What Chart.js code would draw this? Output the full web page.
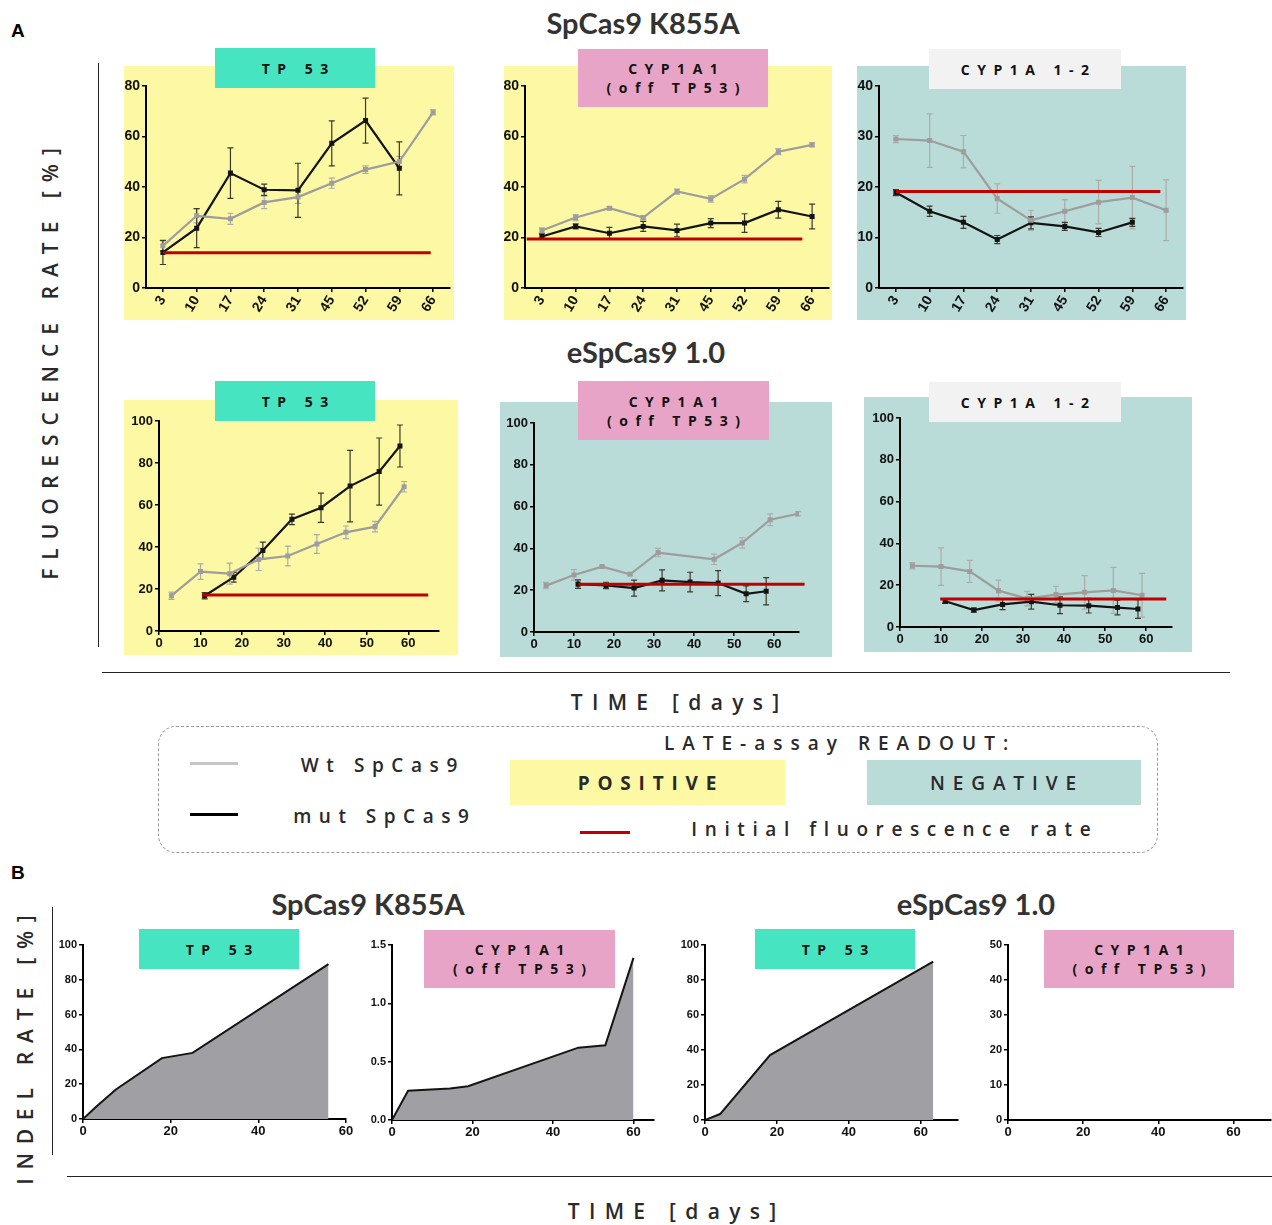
<!DOCTYPE html>
<html>
<head>
<meta charset="utf-8">
<script src="https://cdn.jsdelivr.net/npm/chart.js@4.4.1/dist/chart.umd.min.js"></script>
<style>
  body { margin: 0; background: #fff; }
  #fig { position: relative; width: 1272px; height: 1225px; overflow: hidden; font-family: 'Open Sans', sans-serif; color: #222; }
  .abs { position: absolute; }
  .bg { position: absolute; }
  .tag { position: absolute; display: flex; flex-direction: column; align-items: center; justify-content: center; text-align: center;
         font-family: 'Open Sans', sans-serif; font-weight: 700; font-size: 14px; letter-spacing: 7.5px; padding-left: 7.5px; box-sizing: border-box;
         white-space: pre; line-height: 19px; color: #111; z-index: 3; }
  .title { position: absolute; font-family: 'Lato', sans-serif; font-weight: 700; font-size: 29px; color: #333; white-space: nowrap; transform: translate(-50%, -50%); }
  .spaced { position: absolute; white-space: pre; font-family: 'Open Sans', sans-serif; color: #2a2a2a; }
  .hline { position: absolute; height: 0; border-top: 1.5px solid #222; }
  .vline { position: absolute; width: 0; border-left: 1.5px solid #222; }
  .panel { position: absolute; z-index: 2; }
</style>
</head>
<body>
<div id="fig"></div>
<script>
// ---------- data ----------
// Panel A, SpCas9 K855A (days as categories)
const daysA = ['3', '10', '17', '24', '31', '45', '52', '59', '66'];

const k855Tp53Wt      = [16.7, 28.6, 27.4, 33.9, 36.0, 41.5, 46.9, 50.1, 69.6];
const k855Tp53WtErr   = [2.0, 2.8, 2.2, 2.5, 2.5, 2.0, 1.5, 2.0, 1.0];
const k855Tp53Mut     = [14.1, 23.7, 45.5, 38.9, 38.7, 57.3, 66.3, 47.4, null];
const k855Tp53MutErr  = [4.8, 7.7, 10.0, 2.2, 10.7, 8.9, 8.9, 10.5, null];
const k855Tp53Base    = 14.0;

const k855Cyp1a1Wt     = [22.8, 27.9, 31.6, 27.9, 38.2, 35.3, 43.1, 54.0, 56.7];
const k855Cyp1a1WtErr  = [1.0, 1.2, 0.6, 0.8, 1.0, 1.3, 1.5, 1.2, 0.8];
const k855Cyp1a1Mut    = [20.4, 24.4, 21.7, 24.4, 22.8, 25.7, 25.7, 31.0, 28.3];
const k855Cyp1a1MutErr = [1.0, 1.0, 2.3, 2.0, 2.5, 1.8, 3.7, 3.3, 4.9];
const k855Cyp1a1Base   = 19.4;

const k855Cyp1a12Wt     = [29.5, 29.2, 27.0, 17.7, 13.4, 15.2, 17.0, 17.9, 15.4];
const k855Cyp1a12WtErr  = [0.7, 5.3, 3.2, 2.9, 2.0, 2.3, 4.3, 6.2, 6.0];
const k855Cyp1a12Mut    = [18.9, 15.2, 13.0, 9.6, 12.9, 12.2, 11.0, 13.0, null];
const k855Cyp1a12MutErr = [0.6, 1.0, 1.2, 0.8, 1.2, 0.8, 0.8, 0.8, null];
const k855Cyp1a12Base   = 19.1;

// Panel A, eSpCas9 1.0 (days on a linear axis)
const espTp53WtDays  = [3, 10, 17, 24, 31, 38, 45, 52, 59];
const espTp53Wt      = [16.8, 28.3, 27.3, 34.1, 35.7, 41.4, 47.0, 49.7, 68.7];
const espTp53WtErr   = [1.7, 3.7, 5.0, 5.3, 4.7, 4.5, 3.0, 2.5, 2.5];
const espTp53MutDays = [11, 18, 25, 32, 39, 46, 53, 58];
const espTp53Mut     = [16.8, 25.6, 38.3, 53.2, 58.7, 69.0, 75.9, 88.1];
const espTp53MutErr  = [1.5, 2.3, 4.0, 2.5, 7.0, 17.0, 16.0, 10.0];
const espTp53Base    = { value: 17.1, from: 10.4, to: 64.8 };

const espCyp1a1WtDays  = [3, 10, 17, 24, 31, 45, 52, 59, 66];
const espCyp1a1Wt      = [22.2, 27.3, 31.3, 27.6, 38.0, 34.8, 42.6, 53.7, 56.6];
const espCyp1a1WtErr   = [1.5, 2.5, 0.5, 0.5, 2.0, 2.5, 2.5, 2.8, 1.0];
const espCyp1a1MutDays = [11, 18, 25, 32, 39, 46, 53, 58];
const espCyp1a1Mut     = [22.9, 22.3, 21.0, 24.7, 23.9, 23.4, 18.3, 19.5];
const espCyp1a1MutErr  = [2.0, 1.5, 3.8, 5.0, 4.7, 6.0, 3.8, 6.5];
const espCyp1a1Base    = { value: 22.9, from: 11.1, to: 67.6 };

const espCyp1a12WtDays  = [3, 10, 17, 24, 31, 38, 45, 52, 59];
const espCyp1a12Wt      = [29.3, 28.9, 26.6, 17.4, 13.6, 15.5, 16.6, 17.5, 15.2];
const espCyp1a12WtErr   = [1.5, 9.0, 5.3, 5.0, 3.5, 4.0, 8.0, 11.0, 10.5];
const espCyp1a12MutDays = [11, 18, 25, 32, 39, 46, 53, 58];
const espCyp1a12Mut     = [12.3, 8.1, 10.8, 12.1, 10.4, 10.2, 9.3, 8.6];
const espCyp1a12MutErr  = [1.0, 1.0, 2.5, 3.5, 4.0, 3.5, 3.5, 4.5];
const espCyp1a12Base    = { value: 13.4, from: 9.8, to: 64.9 };

// Panel B, indel rate
const indelK855Tp53Days  = [0, 3, 7.5, 18, 25, 56];
const indelK855Tp53      = [0, 7, 17, 35, 38, 89];
const indelK855CypDays   = [0, 4, 8.5, 14.4, 18.9, 46.3, 53, 60];
const indelK855Cyp       = [0, 0.25, 0.26, 0.27, 0.29, 0.62, 0.64, 1.39];
const indelEspTp53Days   = [0, 4.2, 18.1, 63.5];
const indelEspTp53       = [0, 3.4, 37.1, 90.5];
const indelEspCypDays    = [];
const indelEspCyp        = [];

// tick labels
const ticksDays = [0, 10, 20, 30, 40, 50, 60];
const ticksDaysB = [0, 20, 40, 60];

// ---------- colours ----------
const YELLOW = '#fcf8a3', TEAL_BG = '#badcd8', TEAL_TAG = '#46e4c0', PINK_TAG = '#e8a4c6', GREY_TAG = '#f2f2f2';
const WT = '#9d9d9d', MUT = '#141414', RED = '#c00000', AREA = '#a09fa4';

// ---------- plugins ----------
const errorBars = {
  id: 'errorBars',
  beforeDatasetsDraw(chart) {
    const ctx = chart.ctx, ys = chart.scales.y;
    chart.data.datasets.forEach((ds, i) => {
      if (!ds.errors) return;
      const meta = chart.getDatasetMeta(i);
      ctx.save();
      ctx.strokeStyle = ds.errorColor;
      ctx.lineWidth = 1.2;
      meta.data.forEach((pt, j) => {
        const raw = ds.data[j];
        const v = (raw && typeof raw === 'object') ? raw.y : raw;
        const e = ds.errors[j];
        if (v == null || e == null) return;
        const x = pt.x, y1 = ys.getPixelForValue(v + e), y2 = ys.getPixelForValue(v - e);
        ctx.beginPath();
        ctx.moveTo(x, y1); ctx.lineTo(x, y2);
        ctx.moveTo(x - 3, y1); ctx.lineTo(x + 3, y1);
        ctx.moveTo(x - 3, y2); ctx.lineTo(x + 3, y2);
        ctx.stroke();
      });
      ctx.restore();
    });
  }
};

const baseline = {
  id: 'baseline',
  afterDatasetsDraw(chart, args, opts) {
    if (!opts || opts.value == null) return;
    const xs = chart.scales.x, ys = chart.scales.y, ctx = chart.ctx;
    const py = ys.getPixelForValue(opts.value);
    ctx.save();
    ctx.strokeStyle = RED;
    ctx.lineWidth = 3;
    ctx.beginPath();
    ctx.moveTo(xs.getPixelForValue(opts.from), py);
    ctx.lineTo(xs.getPixelForValue(opts.to), py);
    ctx.stroke();
    ctx.restore();
  }
};

Chart.register(errorBars, baseline);
Chart.defaults.font.family = "'Liberation Sans', Arial, sans-serif";
Chart.defaults.font.weight = 'bold';
Chart.defaults.font.size = 12;
Chart.defaults.color = '#111';
Chart.defaults.animation = false;

const fig = document.getElementById('fig');

function el(cls, css, html) {
  const d = document.createElement('div');
  d.className = cls;
  Object.assign(d.style, css);
  if (html != null) d.innerHTML = html;
  fig.appendChild(d);
  return d;
}
function box(cls, r, color, html) {
  return el(cls, { left: r[0] + 'px', top: r[1] + 'px', width: (r[2] - r[0]) + 'px', height: (r[3] - r[1]) + 'px', background: color }, html);
}

function axisCommon() {
  return {
    border: { display: true, color: '#000', width: 2 },
    grid: { display: true, drawOnChartArea: false, drawTicks: true, tickLength: 4, color: '#000', lineWidth: 1.5 },
  };
}

// p: { L, R, T, B, x: {...}, y: {...}, datasets, base }
function addPanel(p) {
  const YW = p.yw || 34, PT = 12, PR = p.pr || 10, XH = p.xh || 22;
  const w = Math.round(p.R - p.L) + YW + PR;
  const h = Math.round(p.B - p.T) + PT + XH;
  const holder = el('panel', { left: Math.round(p.L - YW) + 'px', top: Math.round(p.T - PT) + 'px', width: w + 'px', height: h + 'px' });
  const cv = document.createElement('canvas');
  cv.width = w; cv.height = h;
  cv.style.width = w + 'px'; cv.style.height = h + 'px';
  holder.appendChild(cv);

  const xScale = Object.assign(axisCommon(), p.x, { afterFit(s) { s.height = XH; } });
  const yScale = Object.assign(axisCommon(), p.y, { afterFit(s) { s.width = YW; } });

  new Chart(cv, {
    type: 'line',
    data: { labels: p.labels, datasets: p.datasets },
    options: {
      responsive: false,
      animation: false,
      layout: { padding: { left: 0, top: PT, right: PR, bottom: 0 } },
      scales: { x: xScale, y: yScale },
      plugins: { legend: { display: false }, tooltip: { enabled: false }, baseline: p.base || {} },
    }
  });
}

function seriesCat(vals, errs, isWt) {
  return {
    data: vals, errors: errs,
    errorColor: isWt ? '#ababab' : '#3a3a2a',
    borderColor: isWt ? WT : MUT, backgroundColor: isWt ? WT : MUT,
    borderWidth: 2.2, pointStyle: 'rect', pointRadius: 2, tension: 0, spanGaps: false,
  };
}
function seriesXY(days, vals, errs, isWt) {
  return seriesCat(days.map((d, i) => ({ x: d, y: vals[i] })), errs, isWt);
}
function areaXY(days, vals) {
  return {
    data: days.map((d, i) => ({ x: d, y: vals[i] })),
    borderColor: MUT, backgroundColor: AREA, borderWidth: 2, pointRadius: 0, fill: 'origin', tension: 0,
  };
}

function catX() {
  return {
    type: 'category', offset: true,
    grid: { display: true, drawOnChartArea: false, drawTicks: true, tickLength: 4, color: '#000', lineWidth: 1.5, offset: false },
    ticks: { autoSkip: false, minRotation: 58, maxRotation: 58, padding: 1, font: { size: 14, weight: 'bold' } },
  };
}
function linX(max, ticks, size) {
  return {
    type: 'linear', min: 0, max: max,
    afterBuildTicks(s) { s.ticks = ticks.map(v => ({ value: v })); },
    ticks: { padding: 1, font: { size: size || 13, weight: 'bold' } },
  };
}
function linY(max, step, size, dec) {
  return {
    type: 'linear', min: 0, max: max,
    ticks: { stepSize: step, padding: 2, font: { size: size || 13, weight: 'bold' },
             callback: v => dec ? Number(v).toFixed(dec) : v },
  };
}

// ---------- backgrounds of panel A ----------
box('bg', [124, 66, 454, 320], YELLOW);
box('bg', [504, 66, 832, 320], YELLOW);
box('bg', [857, 66, 1186, 320], TEAL_BG);
box('bg', [124, 400, 458, 655], YELLOW);
box('bg', [500, 402, 832, 657], TEAL_BG);
box('bg', [864, 397, 1192, 652], TEAL_BG);

// ---------- panel A, row 1 ----------
addPanel({ L: 146, R: 449.8, T: 86, B: 288, xh: 34, labels: daysA, x: catX(), y: linY(80, 20, 14),
  datasets: [seriesCat(k855Tp53Wt, k855Tp53WtErr, true), seriesCat(k855Tp53Mut, k855Tp53MutErr, false)],
  base: { value: k855Tp53Base, from: 0, to: 7.93 } });
addPanel({ L: 524.8, R: 828.5, T: 86, B: 288, xh: 34, labels: daysA, x: catX(), y: linY(80, 20, 14),
  datasets: [seriesCat(k855Cyp1a1Wt, k855Cyp1a1WtErr, true), seriesCat(k855Cyp1a1Mut, k855Cyp1a1MutErr, false)],
  base: { value: k855Cyp1a1Base, from: -0.45, to: 7.71 } });
addPanel({ L: 878.8, R: 1182.6, T: 86, B: 288, xh: 34, labels: daysA, x: catX(), y: linY(40, 10, 14),
  datasets: [seriesCat(k855Cyp1a12Wt, k855Cyp1a12WtErr, true), seriesCat(k855Cyp1a12Mut, k855Cyp1a12MutErr, false)],
  base: { value: k855Cyp1a12Base, from: 0, to: 7.83 } });

// ---------- panel A, row 2 ----------
addPanel({ L: 159.3, R: 439.5, T: 421, B: 631, x: linX(67.4, ticksDays), y: linY(100, 20),
  datasets: [seriesXY(espTp53WtDays, espTp53Wt, espTp53WtErr, true), seriesXY(espTp53MutDays, espTp53Mut, espTp53MutErr, false)],
  base: espTp53Base });
addPanel({ L: 533.7, R: 799, T: 423.3, B: 632.3, x: linX(66.2, ticksDays), y: linY(100, 20),
  datasets: [seriesXY(espCyp1a1WtDays, espCyp1a1Wt, espCyp1a1WtErr, true), seriesXY(espCyp1a1MutDays, espCyp1a1Mut, espCyp1a1MutErr, false)],
  base: espCyp1a1Base });
addPanel({ L: 900, R: 1171.7, T: 418.3, B: 627.3, x: linX(66.3, ticksDays), y: linY(100, 20),
  datasets: [seriesXY(espCyp1a12WtDays, espCyp1a12Wt, espCyp1a12WtErr, true), seriesXY(espCyp1a12MutDays, espCyp1a12Mut, espCyp1a12MutErr, false)],
  base: espCyp1a12Base });

// ---------- panel B ----------
addPanel({ L: 82.7, R: 346, T: 945, B: 1119.3, x: linX(60, ticksDaysB), y: linY(100, 20, 11),
  datasets: [areaXY(indelK855Tp53Days, indelK855Tp53)] });
addPanel({ L: 392.3, R: 654, T: 945, B: 1120, x: linX(65.1, ticksDaysB), y: linY(1.5, 0.5, 11, 1),
  datasets: [areaXY(indelK855CypDays, indelK855Cyp)] });
addPanel({ L: 705, R: 958, T: 945, B: 1120, x: linX(70.4, ticksDaysB), y: linY(100, 20, 11),
  datasets: [areaXY(indelEspTp53Days, indelEspTp53)] });
addPanel({ L: 1007.7, R: 1271, T: 945, B: 1120, pr: 1, x: linX(70, ticksDaysB), y: linY(50, 10, 11),
  datasets: [areaXY(indelEspCypDays, indelEspCyp)] });

// ---------- gene tags ----------
const TP53 = 'TP 53', CYP1A1 = 'CYP1A1<br>(off TP53)', CYP1A12 = 'CYP1A 1-2';
box('tag', [215, 48, 375, 88], TEAL_TAG, TP53);
box('tag', [578, 49, 768, 107], PINK_TAG, CYP1A1);
box('tag', [929, 49, 1121, 89], GREY_TAG, CYP1A12);
box('tag', [215, 381, 375, 421], TEAL_TAG, TP53);
box('tag', [578, 381, 769, 440], PINK_TAG, CYP1A1);
box('tag', [929, 382, 1121, 422], GREY_TAG, CYP1A12);
box('tag', [139, 929, 299, 969], TEAL_TAG, TP53);
box('tag', [424, 930, 615, 988], PINK_TAG, CYP1A1);
box('tag', [755, 929, 915, 969], TEAL_TAG, TP53);
box('tag', [1044, 930, 1234, 988], PINK_TAG, CYP1A1);

// ---------- titles and labels ----------
el('abs', { left: '11px', top: '20px', font: "bold 19px 'Liberation Sans', Arial, sans-serif", color: '#000' }, 'A');
el('abs', { left: '11px', top: '862px', font: "bold 19px 'Liberation Sans', Arial, sans-serif", color: '#000' }, 'B');
el('title', { left: '643px', top: '22px' }, 'SpCas9 K855A');
el('title', { left: '646px', top: '351px' }, 'eSpCas9 1.0');
el('title', { left: '368px', top: '903px' }, 'SpCas9 K855A');
el('title', { left: '976px', top: '903px' }, 'eSpCas9 1.0');

function spaced(text, cx, cy, size, spacing, weight, rotate) {
  return el('spaced', { left: cx + 'px', top: cy + 'px', fontSize: size + 'px', letterSpacing: spacing + 'px',
    fontWeight: weight || 400, paddingLeft: spacing + 'px',
    transform: 'translate(-50%, -50%)' + (rotate ? ' rotate(-90deg)' : '') }, text);
}
spaced('FLUORESCENCE RATE [%]', 50, 364, 21, 9.0, 600, true);
spaced('TIME [days]', 675, 702, 21, 9.3, 600);
spaced('INDEL RATE [%]', 25, 1050, 21, 8.8, 600, true);
spaced('TIME [days]', 672, 1211, 21, 9.3, 600);

el('vline', { left: '98px', top: '63px', height: '584px' });
el('hline', { left: '102px', top: '672px', width: '1128px' });
el('vline', { left: '52px', top: '907px', height: '248px' });
el('hline', { left: '67px', top: '1176px', width: '1205px' });

// ---------- legend ----------
el('abs', { left: '158px', top: '726px', width: '1000px', height: '127px', border: '1px dashed #9a9a9a', borderRadius: '18px', boxSizing: 'border-box' });
el('abs', { left: '190px', top: '762px', width: '48px', height: '3px', background: '#c6c6c6' });
el('abs', { left: '190px', top: '813px', width: '48px', height: '3px', background: '#000' });
el('abs', { left: '580px', top: '831px', width: '50px', height: '3px', background: RED });
box('bg', [510, 760, 785, 805], YELLOW);
box('bg', [867, 760, 1141, 805], TEAL_BG);
spaced('Wt SpCas9', 379, 765, 19, 7.6, 600);
spaced('mut SpCas9', 381, 816, 19, 7.5, 600);
spaced('LATE-assay READOUT:', 836, 743, 19, 8.0, 600);
spaced('POSITIVE', 647, 783, 19, 7.8, 700);
spaced('NEGATIVE', 1003, 783, 19, 7.9, 600);
spaced('Initial fluorescence rate', 891, 829, 19, 7.6, 600);
</script>
</body>
</html>
